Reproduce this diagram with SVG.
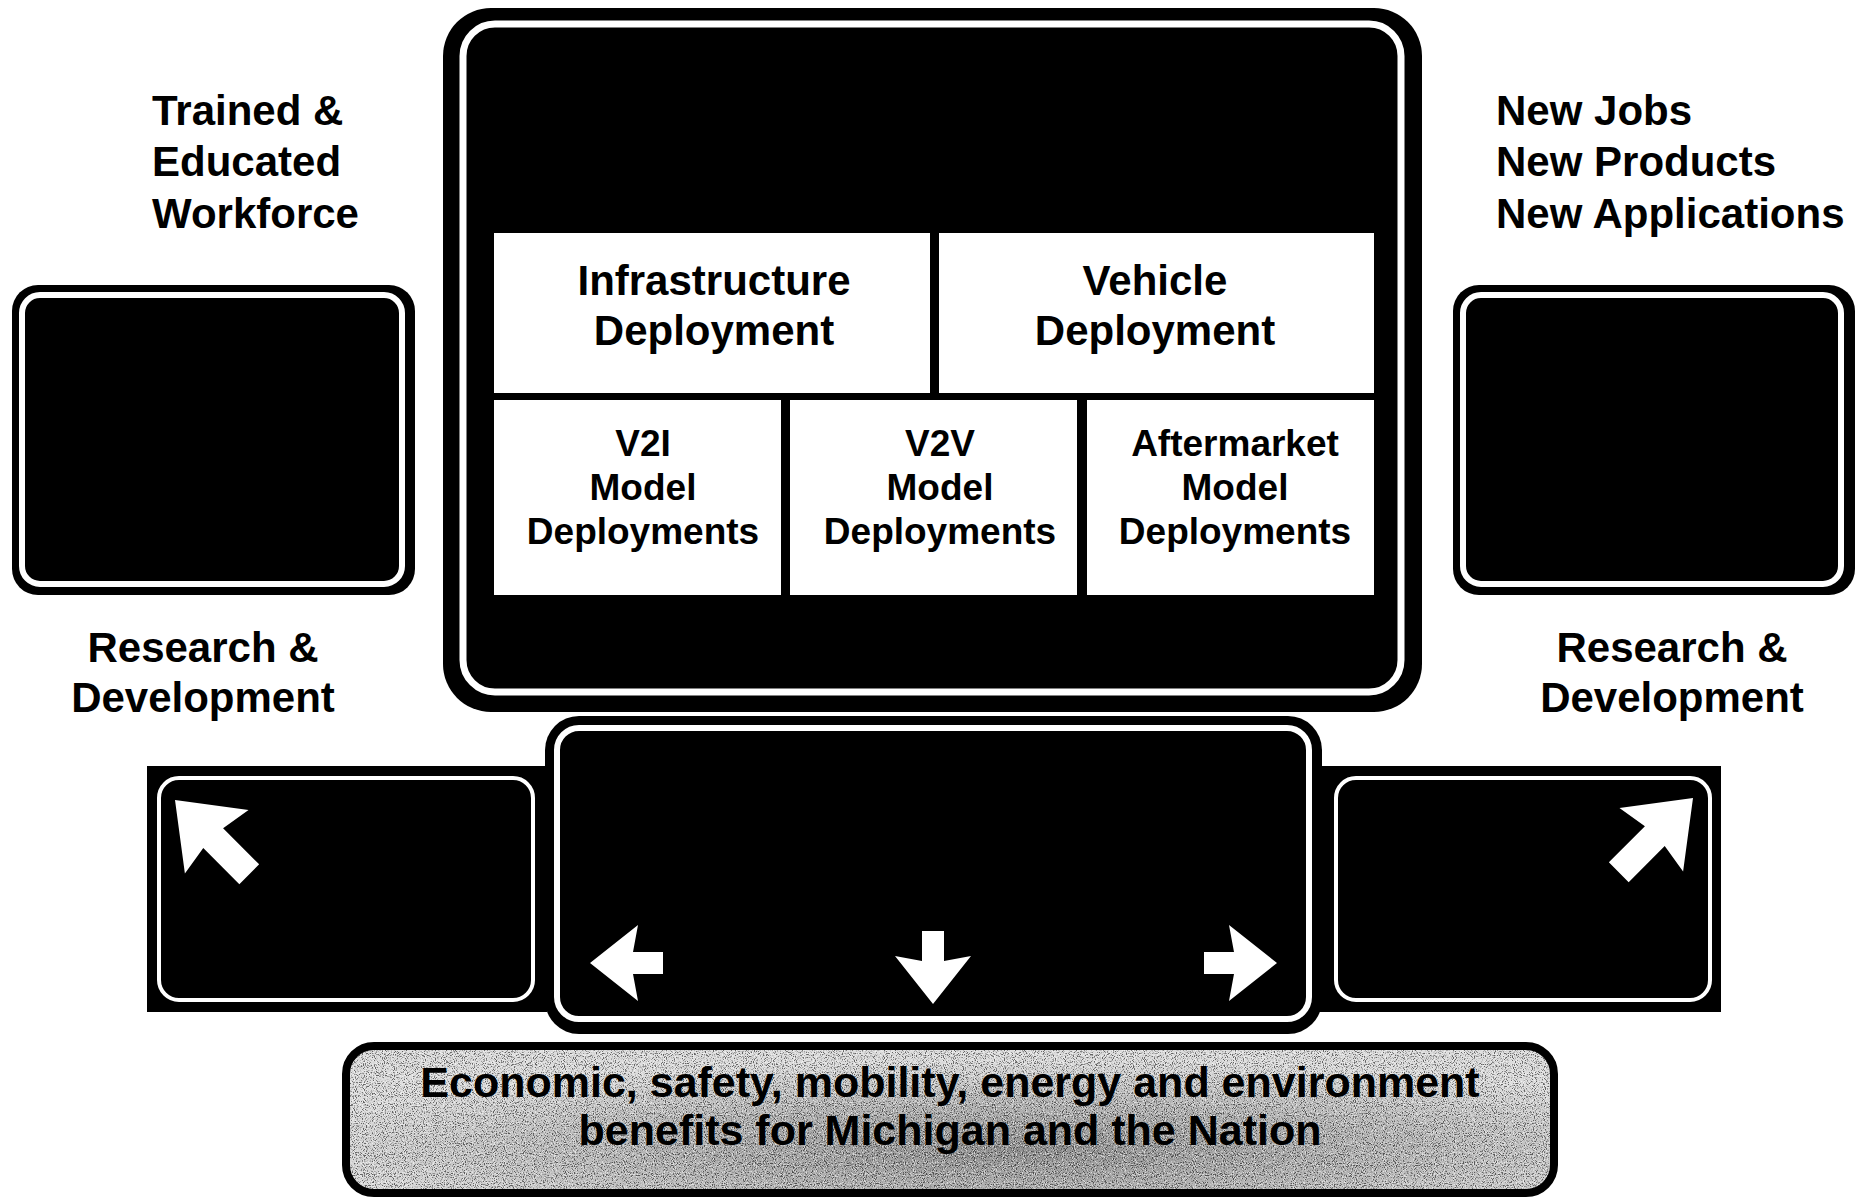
<svg xmlns="http://www.w3.org/2000/svg" width="1862" height="1198" viewBox="0 0 1862 1198">
  <defs>
    <style>
      .t { font-family: "Liberation Sans", Arial, Helvetica, sans-serif; font-weight: bold; fill: #000; }
      .side { font-size: 42px; }
      .mid { text-anchor: middle; }
      .hdr { font-size: 42px; text-anchor: middle; }
      .sub { font-size: 37px; text-anchor: middle; }
      .ban { font-size: 43px; text-anchor: middle; }
      .plate { fill: #000; }
      .ring { fill: none; stroke: #fff; }
      .cell { fill: #fff; }
      .arr { fill: #fff; }
    </style>
    <!-- arrow glyphs, tip at origin pointing up, swept-back barbs -->
    <path id="arrowS" d="M0,0 L38,48 L11,43 L11,73 L-11,73 L-11,43 L-38,48 Z"/>
    <path id="arrowL" d="M0,0 L45,59 L14,54 L14,105 L-14,105 L-14,54 L-45,59 Z"/>
    <radialGradient id="banFill" cx="0.55" cy="0.7" r="0.6">
      <stop offset="0" stop-color="#909090"/>
      <stop offset="0.55" stop-color="#b8b8b8"/>
      <stop offset="1" stop-color="#dcdcdc"/>
    </radialGradient>
    <clipPath id="banClip">
      <rect x="346" y="1046" width="1208" height="147" rx="28"/>
    </clipPath>
    <!-- stippled print texture: dark and light speckles -->
    <filter id="darkGrain" x="0" y="0" width="1" height="1" color-interpolation-filters="sRGB">
      <feTurbulence type="fractalNoise" baseFrequency="0.9" numOctaves="1" seed="7"/>
      <feColorMatrix type="matrix" values="0 0 0 0 0  0 0 0 0 0  0 0 0 0 0  7 0 0 0 -3.6"/>
      <feComposite in2="SourceAlpha" operator="in"/>
    </filter>
    <filter id="lightGrain" x="0" y="0" width="1" height="1" color-interpolation-filters="sRGB">
      <feTurbulence type="fractalNoise" baseFrequency="0.9" numOctaves="1" seed="19"/>
      <feColorMatrix type="matrix" values="0 0 0 0 1  0 0 0 0 1  0 0 0 0 1  7 0 0 0 -3.7"/>
      <feComposite in2="SourceAlpha" operator="in"/>
    </filter>
  </defs>

  <rect width="1862" height="1198" fill="#fff"/>

  <!-- central deployment plate -->
  <g id="deployment-plate">
    <rect class="plate" x="443" y="8" width="979" height="704" rx="48"/>
    <rect class="ring" x="463" y="24" width="938" height="668" rx="32" stroke-width="7"/>
  </g>

  <g id="infrastructure-deployment">
    <rect class="cell" x="494" y="233" width="436" height="160"/>
    <text class="t hdr" x="714" y="295">Infrastructure</text>
    <text class="t hdr" x="714" y="345">Deployment</text>
  </g>

  <g id="vehicle-deployment">
    <rect class="cell" x="939" y="233" width="435" height="160"/>
    <text class="t hdr" x="1155" y="295">Vehicle</text>
    <text class="t hdr" x="1155" y="345">Deployment</text>
  </g>

  <g id="v2i-model">
    <rect class="cell" x="494" y="400" width="287" height="195"/>
    <text class="t sub" x="643" y="456">V2I</text>
    <text class="t sub" x="643" y="500">Model</text>
    <text class="t sub" x="643" y="544">Deployments</text>
  </g>

  <g id="v2v-model">
    <rect class="cell" x="790" y="400" width="287" height="195"/>
    <text class="t sub" x="940" y="456">V2V</text>
    <text class="t sub" x="940" y="500">Model</text>
    <text class="t sub" x="940" y="544">Deployments</text>
  </g>

  <g id="aftermarket-model">
    <rect class="cell" x="1087" y="400" width="287" height="195"/>
    <text class="t sub" x="1235" y="456">Aftermarket</text>
    <text class="t sub" x="1235" y="500">Model</text>
    <text class="t sub" x="1235" y="544">Deployments</text>
  </g>

  <!-- side plates -->
  <g id="left-plate">
    <rect class="plate" x="12" y="285" width="403" height="310" rx="26"/>
    <rect class="ring" x="22" y="295" width="380" height="289" rx="18" stroke-width="6"/>
  </g>

  <g id="right-plate">
    <rect class="plate" x="1453" y="285" width="402" height="310" rx="26"/>
    <rect class="ring" x="1463" y="295" width="378" height="289" rx="18" stroke-width="6"/>
  </g>

  <!-- lower sign panels -->
  <g id="lower-left-panel">
    <rect class="plate" x="147" y="766" width="400" height="246"/>
    <rect class="ring" x="159" y="778" width="374" height="222" rx="20" stroke-width="4"/>
  </g>

  <g id="lower-right-panel">
    <rect class="plate" x="1318" y="766" width="403" height="246"/>
    <rect class="ring" x="1336" y="778" width="374" height="222" rx="20" stroke-width="4"/>
  </g>

  <g id="lower-center-panel">
    <rect class="plate" x="545" y="716" width="777" height="318" rx="34"/>
    <rect class="ring" x="557" y="728" width="752" height="291" rx="22" stroke-width="6"/>
  </g>

  <!-- side captions -->
  <g id="workforce-label">
    <text class="t side" x="152" y="125">Trained &amp;</text>
    <text class="t side" x="152" y="176">Educated</text>
    <text class="t side" x="152" y="228">Workforce</text>
  </g>

  <g id="outcomes-label">
    <text class="t side" x="1496" y="125">New Jobs</text>
    <text class="t side" x="1496" y="176">New Products</text>
    <text class="t side" x="1496" y="228">New Applications</text>
  </g>

  <g id="rd-left-label">
    <text class="t side mid" x="203" y="662">Research &amp;</text>
    <text class="t side mid" x="203" y="712">Development</text>
  </g>

  <g id="rd-right-label">
    <text class="t side mid" x="1672" y="662">Research &amp;</text>
    <text class="t side mid" x="1672" y="712">Development</text>
  </g>

  <!-- direction arrows -->
  <g id="connectors" class="arr">
    <use href="#arrowL" transform="translate(175,800) rotate(-45)"/>
    <use href="#arrowL" transform="translate(1693,798) rotate(45)"/>
    <use href="#arrowS" transform="translate(590,963) rotate(-90)"/>
    <use href="#arrowS" transform="translate(933,1004) rotate(180)"/>
    <use href="#arrowS" transform="translate(1277,963) rotate(90)"/>
  </g>

  <!-- benefits banner -->
  <g id="benefits-banner">
    <rect x="346" y="1046" width="1208" height="147" rx="28" fill="url(#banFill)"/>
    <g clip-path="url(#banClip)">
      <rect x="346" y="1046" width="1208" height="147" fill="#000" filter="url(#darkGrain)" opacity="0.55"/>
      <rect x="346" y="1046" width="1208" height="147" fill="#000" filter="url(#lightGrain)" opacity="0.6"/>
    </g>
    <rect x="346" y="1046" width="1208" height="147" rx="28" fill="none" stroke="#000" stroke-width="8"/>
    <text class="t ban" x="950" y="1097">Economic, safety, mobility, energy and environment</text>
    <text class="t ban" x="950" y="1145">benefits for Michigan and the Nation</text>
  </g>
</svg>
